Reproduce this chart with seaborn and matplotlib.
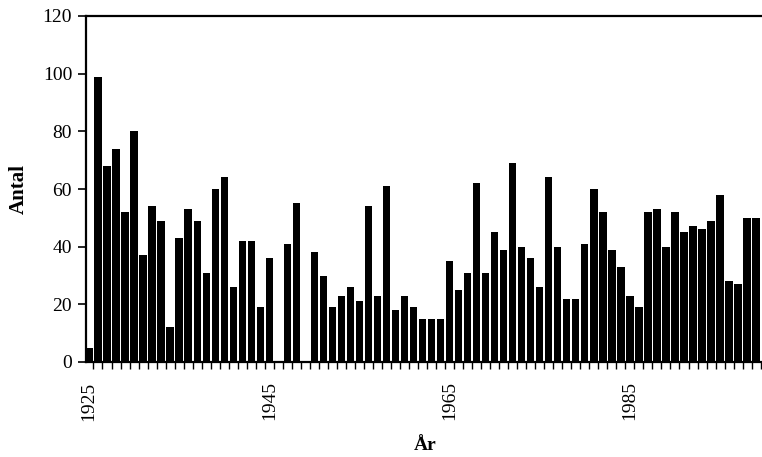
import numpy as np
import pandas as pd
import matplotlib
matplotlib.use("Agg")
import matplotlib.pyplot as plt
import seaborn as sns
from matplotlib.ticker import FixedLocator

years = list(range(1925, 2000))
missing_years = [1946, 1949]
counts = [5, 99, 68, 74, 52, 80, 37, 54, 49, 12,
          43, 53, 49, 31, 60, 64, 26, 42, 42, 19,
          36, 41, 55, 38, 30, 19, 23, 26, 21, 54,
          23, 61, 18, 23, 19, 15, 15, 15, 35, 25,
          31, 62, 31, 45, 39, 69, 40, 36, 26, 64,
          40, 22, 22, 41, 60, 52, 39, 33, 23, 19,
          52, 53, 40, 52, 45, 47, 46, 49, 58, 28,
          27, 50, 50]
label_years = [1925, 1945, 1965, 1985]
y_ticks = [0, 20, 40, 60, 80, 100, 120]

present_years = [y for y in years if y not in missing_years]
df = pd.DataFrame({"År": [str(y) for y in present_years], "Antal": counts})
order = [str(y) for y in years]

sns.set_style("white")
plt.rcParams['font.family'] = ['Liberation Serif', 'DejaVu Serif']
plt.rcParams['text.color'] = 'black'
plt.rcParams['axes.labelcolor'] = 'black'
plt.rcParams['xtick.color'] = 'black'
plt.rcParams['ytick.color'] = 'black'

fig = plt.figure(figsize=(7.62, 4.57), dpi=100)
ax = fig.add_axes([86/762, 1 - 362/457, (762 - 86)/762 + 0.002, (362 - 16)/457])

sns.barplot(data=df, x="År", y="Antal", order=order, color="black",
            width=0.81, ax=ax, saturation=1, edgecolor="black", linewidth=0)

ax.set_ylim(0, 120)
ax.set_xlim(-0.33, len(years) - 1 + 0.82)
ax.set_yticks(y_ticks)
ax.set_yticklabels([str(t) for t in y_ticks], fontsize=14)

pos = [years.index(y) for y in label_years]
ax.set_xticks(pos)
ax.set_xticklabels([str(y) for y in label_years], rotation=90, fontsize=14)
ax.xaxis.set_minor_locator(FixedLocator([i + 0.5 for i in range(-1, len(years))]))
ax.tick_params(axis="x", which="major", length=0, pad=14)
ax.tick_params(axis="x", which="minor", length=5, width=1, color="black", direction="out", bottom=True)
ax.tick_params(axis="y", which="major", length=6, width=1.2, color="black", direction="out", left=True, pad=4)

for s in ["left", "bottom", "top"]:
    ax.spines[s].set_visible(True)
    ax.spines[s].set_color("black")
    ax.spines[s].set_linewidth(1.6)
ax.spines["right"].set_visible(False)

ax.set_xlabel("År", fontsize=14, fontweight="bold", labelpad=12)
ax.set_ylabel("Antal", fontsize=15, fontweight="bold", labelpad=10)
ax.grid(False)

fig.savefig("out.png", dpi=100)
